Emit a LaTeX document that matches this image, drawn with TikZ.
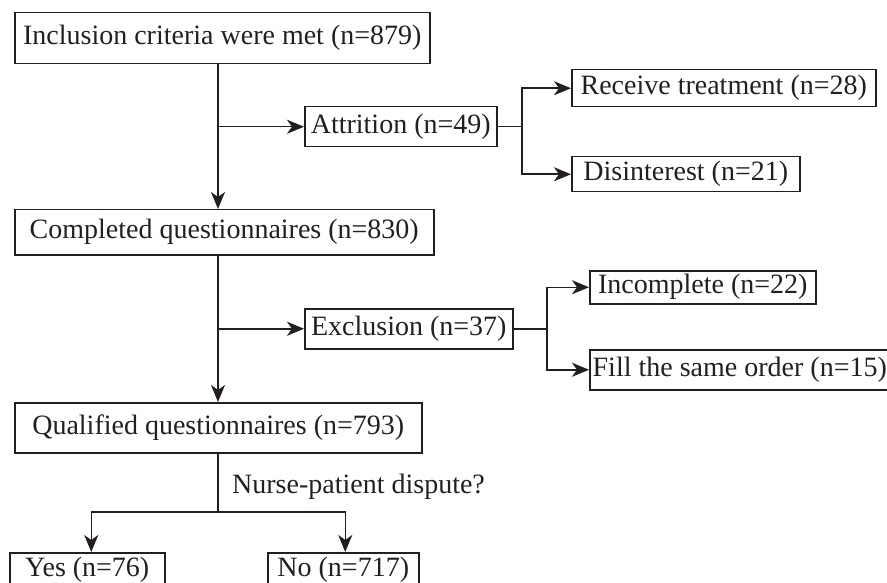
\documentclass[tikz,border=0pt]{standalone}
\usepackage{fontspec}
\setmainfont{Liberation Serif}
\usepackage{tikz}
\usetikzlibrary{arrows.meta, positioning}
\definecolor{ink}{RGB}{35, 31, 32}

\begin{document}
\begin{tikzpicture}[x=1pt, y=-1pt,
  stage/.style={draw=ink, line width=1.5pt, text=ink, inner sep=0pt,
                anchor=north west, font=\fontsize{28}{28}\selectfont},
  link/.style={draw=ink, line width=1.5pt},
  flow/.style={link, -{Stealth[length=17pt, width=14pt, inset=5pt]}},
]
  \useasboundingbox (0,0) rectangle (887,583);

  % main column
  \node[stage, minimum width=415pt, minimum height=51pt] (met)  at (14,12)  {Inclusion criteria were met (n=879)};
  \node[stage, minimum width=419pt, minimum height=45pt] (done) at (14,209) {Completed questionnaires (n=830)};
  \node[stage, minimum width=407pt, minimum height=50pt] (qual) at (14,402) {Qualified questionnaires (n=793)};

  % side boxes
  \node[stage, minimum width=192pt, minimum height=40pt] (attr)  at (304,106) {Attrition (n=49)};
  \node[stage, minimum width=304pt, minimum height=37pt] (treat) at (571,69)  {Receive treatment (n=28)};
  \node[stage, minimum width=228pt, minimum height=35pt] (lost)  at (571,156) {Disinterest (n=21)};
  \node[stage, minimum width=208pt, minimum height=40pt] (excl)  at (304,308) {Exclusion (n=37)};
  \node[stage, minimum width=226pt, minimum height=33pt] (part)  at (589,270) {Incomplete (n=22)};
  \node[stage, minimum width=300pt, minimum height=40pt] (same)  at (589,349) {Fill the same order (n=15)};

  % outcome
  \node[stage, minimum width=155pt, minimum height=34pt] (yes) at (9,552)   {Yes (n=76)};
  \node[stage, minimum width=151pt, minimum height=34pt] (no)  at (267,552) {No (n=717)};
  \node[text=ink, inner sep=0pt, anchor=west, font=\fontsize{28}{28}\selectfont] (ask) at (232,487) {Nurse-patient dispute?};

  \coordinate (spine) at (218,0);
  \coordinate (cut1) at (522,0);
  \coordinate (cut2) at (547,0);
  \coordinate (fork) at (218,512);

  \draw[flow] (met.south -| spine) -- (done.north -| spine);
  \draw[flow] (done.south -| spine) -- (qual.north -| spine);
  \draw[flow] (spine |- attr.west) -- (attr.west);
  \draw[flow] (spine |- excl.west) -- (excl.west);

  \foreach \src/\up/\down/\cut in {attr/treat/lost/cut1, excl/part/same/cut2}{
    \draw[link] (\src.east) -- (\cut |- \src.east);
    \draw[flow] (\cut |- \src.east) |- (\up.west);
    \draw[flow] (\cut |- \src.east) |- (\down.west);
  }

  \draw[link] (qual.south -| spine) -- (fork);
  \draw[flow] (fork) -| ([xshift=4pt]yes.north);
  \draw[flow] (fork) -| ([xshift=2pt]no.north);
\end{tikzpicture}
\end{document}
